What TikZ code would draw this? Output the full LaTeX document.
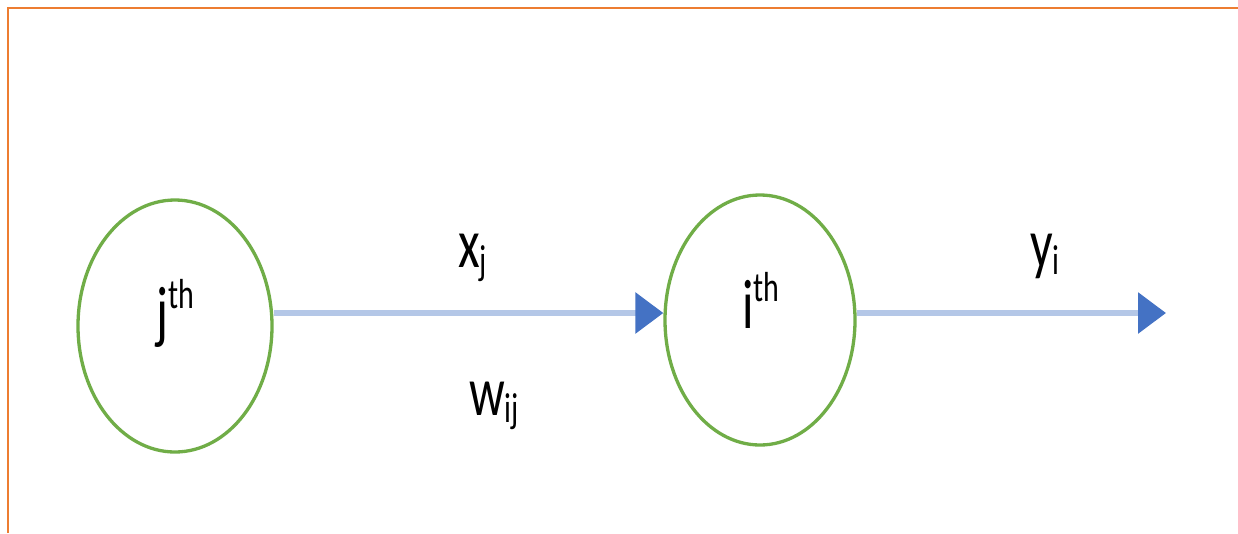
\documentclass[tikz,border=0pt]{standalone}
\usepackage{fontspec}
\usepackage{graphicx}
\setmainfont{Carlito}
\usetikzlibrary{arrows.meta,shapes.geometric}
\definecolor{frameor}{HTML}{ED7D31}
\definecolor{ringgreen}{HTML}{70AD47}
\definecolor{linkblue}{HTML}{B4C7E7}
\definecolor{tipblue}{HTML}{4472C4}
\newcommand\mysup[1]{\raisebox{19pt}{\fontsize{30}{30}\selectfont #1}}
\newcommand\mysub[1]{\raisebox{-5.7pt}{\fontsize{30}{30}\selectfont #1}}
\newcommand\lbl[1]{\scalebox{1}[1.4]{\fontsize{50}{55}\selectfont #1}}
\tikzset{
  neuron/.style={ellipse, draw=ringgreen, line width=3.3pt, inner sep=0pt},
  conn/.style={draw=linkblue, line width=6pt, -{Triangle[length=28pt, width=40pt, color=tipblue]}},
  txt/.style={inner sep=0pt, anchor=base west, text=black},
}
\begin{document}
\begin{tikzpicture}[x=1pt, y=-1pt]
\useasboundingbox (0,0) rectangle (1238,533);
\fill[white] (0,0) rectangle (1238,533);
\draw[frameor, line width=2.8pt] (8,533) -- (8,8) -- (1238,8);
\node[neuron, minimum width=194pt, minimum height=252pt] (e1) at (175,326) {};
\node[neuron, minimum width=190pt, minimum height=250pt] (e2) at (760,320) {};
\coordinate (out) at (1166,313);
\draw[conn] (e1.east |- out) -- (e2.west |- out);
\draw[conn] (e2.east |- out) -- (out);
\node[txt] (tj) at (156,335) {\lbl{j\mysup{th}}};
\node[txt] (ti) at (742,328) {\lbl{i\mysup{th}}};
\node[txt] (tx) at (458,267) {\lbl{x\mysub{j}}};
\node[txt] (tw) at (469,415) {\lbl{w\mysub{ij}}};
\node[txt] (ty) at (1030,267) {\lbl{y\mysub{i}}};
\end{tikzpicture}
\end{document}
